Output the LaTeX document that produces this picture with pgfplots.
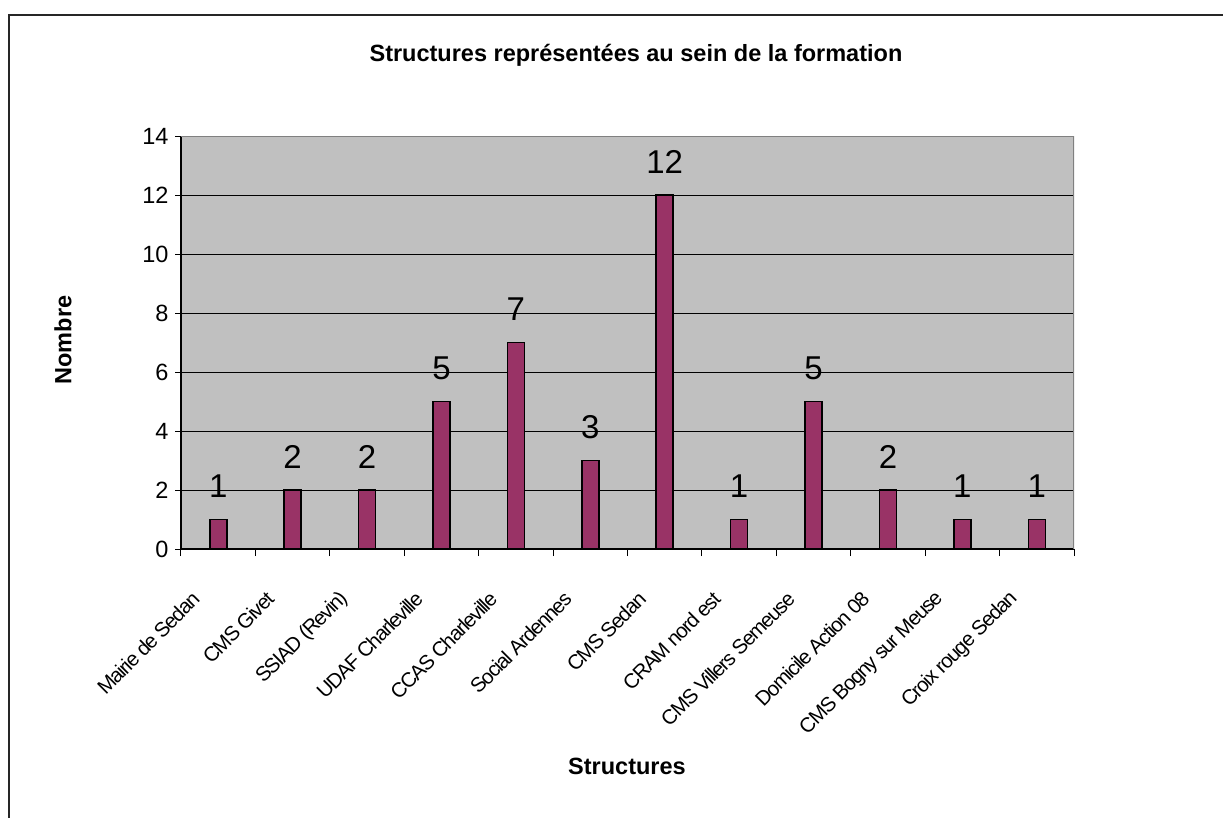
\documentclass[border=0pt]{standalone}
\usepackage{fontspec}
\setmainfont{Liberation Sans}
\newfontfamily\tightfont[LetterSpace=-6]{Liberation Sans}
\usepackage{pgfplots}
\pgfplotsset{compat=1.18}
\definecolor{barc}{HTML}{993366}
\definecolor{plotbg}{HTML}{C0C0C0}
\definecolor{bordergray}{HTML}{808080}
\begin{document}
\begin{tikzpicture}
\path[use as bounding box] (-181pt,-268pt) rectangle (1042pt,549pt);
\draw[line width=2pt, black!85] (-172pt,-270pt) -- (-172pt,534pt) -- (1045pt,534pt);
\begin{axis}[
 at={(0pt,0pt)}, anchor=south west,
 scale only axis, width=893pt, height=413pt,
 xmin=-0.5, xmax=11.5, ymin=0, ymax=14,
 ytick={0,2,...,14},
 xtick={0,...,11},
 xticklabels={Mairie de Sedan,CMS Givet,SSIAD (Revin),UDAF Charleville,CCAS Charleville,Social Ardennes,CMS Sedan,CRAM nord est,CMS Villers Semeuse,Domicile Action 08,CMS Bogny sur Meuse,Croix rouge Sedan},
 minor xtick={-0.5,0.5,...,11.5},
 major x tick style={draw=none},
 minor x tick style={black, line width=1pt},
 major y tick style={black, line width=1pt},
 minor tick length=7pt, major tick length=6pt,
 tick align=outside,
 ymajorgrids, grid style={black, line width=1pt},
 axis background/.style={fill=plotbg},
 axis x line*=bottom, axis y line*=left,
 axis line style={black, line width=1.2pt},
 /pgf/number format/assume math mode=true,
 yticklabel style={font=\fontsize{23.5}{26}\selectfont, xshift=-3pt},
 xticklabel style={font=\tightfont\fontsize{20.5}{23}\selectfont, xshift=-20pt, yshift=-38pt, anchor=east, rotate=45},
 nodes near coords,
 every node near coord/.append style={font=\fontsize{33}{36}\selectfont, inner sep=0pt, yshift=21pt},
]
\addplot[ybar, bar width=17pt, fill=barc, draw=black, line width=1.6pt] coordinates {
(0,1) (1,2) (2,2) (3,5) (4,7) (5,3) (6,12) (7,1) (8,5) (9,2) (10,1) (11,1)
};
\draw[bordergray, line width=2pt] (rel axis cs:0,1) -- (rel axis cs:1,1) -- (rel axis cs:1,0);
\end{axis}
\node[font=\bfseries\fontsize{23.5}{26}\selectfont] at (455pt,494pt) {Structures représentées au sein de la formation};
\node[font=\bfseries\fontsize{23.5}{26}\selectfont, rotate=90] at (-118pt,209pt) {Nombre};
\node[font=\bfseries\fontsize{23.5}{26}\selectfont] at (446pt,-217pt) {Structures};
\end{tikzpicture}
\end{document}
